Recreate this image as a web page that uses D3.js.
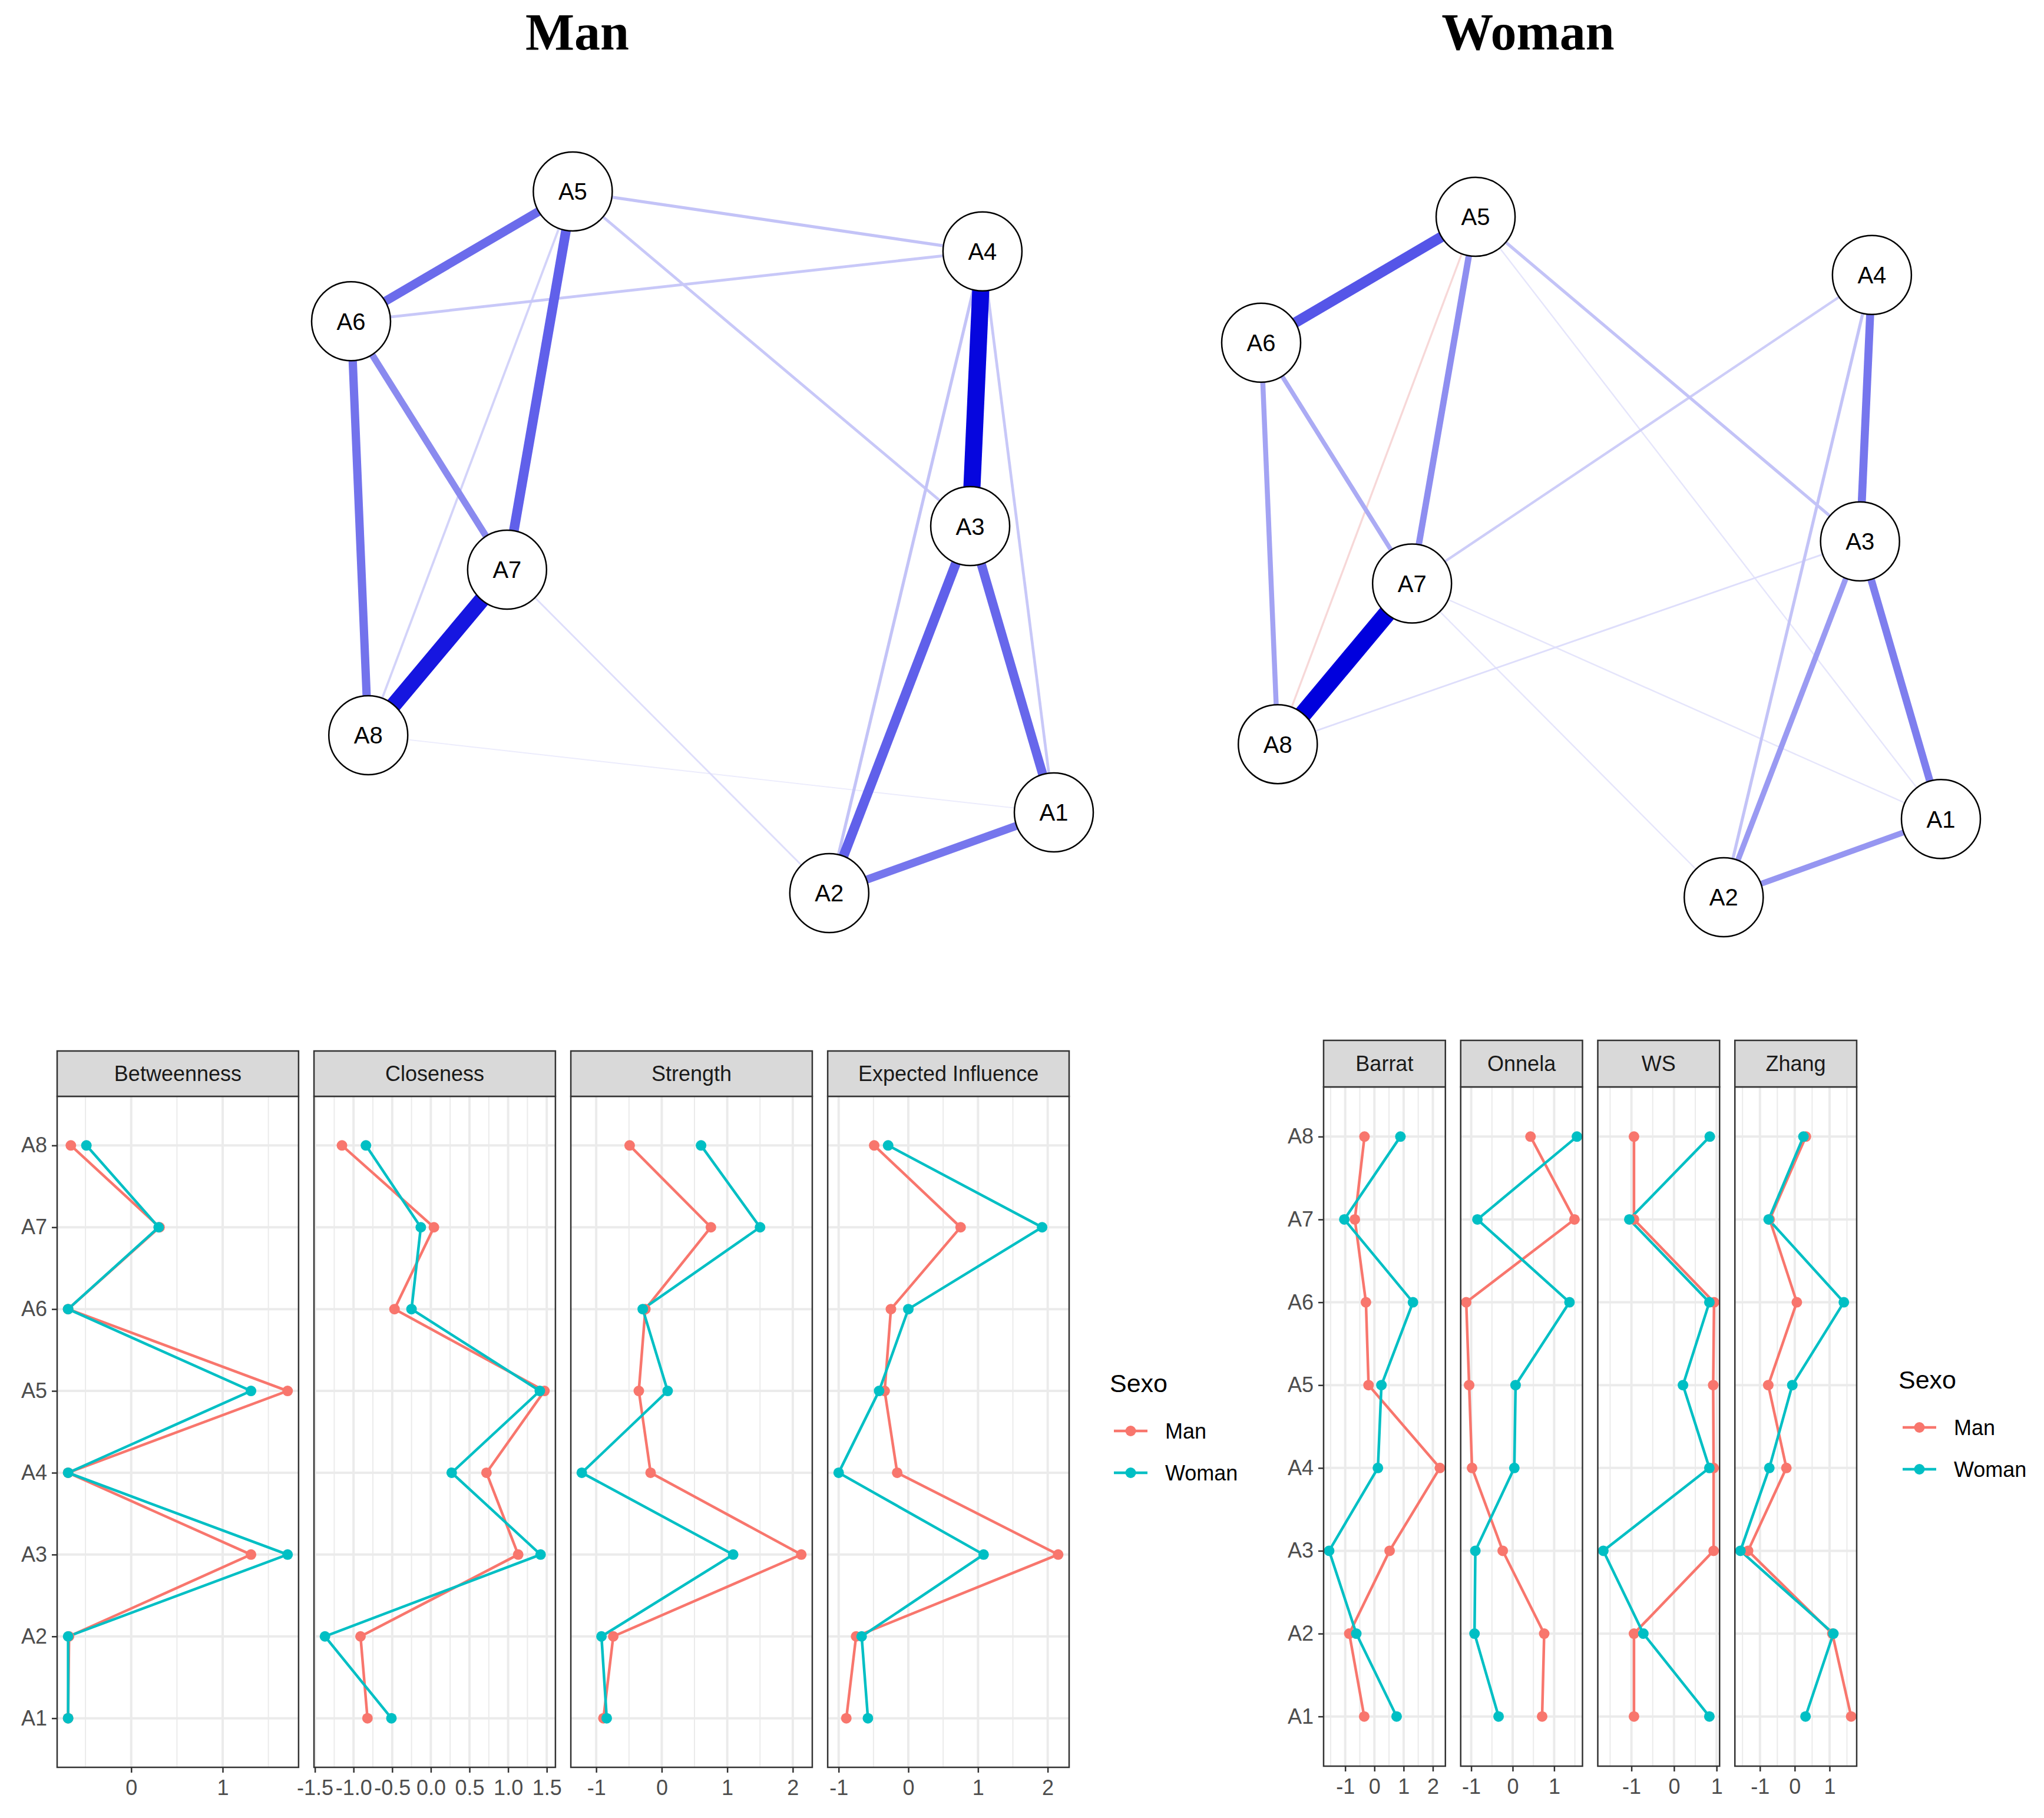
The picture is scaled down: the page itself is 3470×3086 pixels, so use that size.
<!DOCTYPE html>
<html>
<head>
<meta charset="utf-8">
<script src="https://cdn.jsdelivr.net/npm/d3@7"></script>
<style>
body { margin: 0; background: #fff; }
svg { display: block; font-family: "Liberation Sans", Arial, sans-serif; }
</style>
</head>
<body>
<div id="content"></div>
<script>
var w = 3470;
var h = 3086;

// network layout (shared by both groups, qgraph-like units)
var nodeNames = ["A1", "A2", "A3", "A4", "A5", "A6", "A7", "A8"];
var layoutX = [1.0, 0.361, 0.762, 0.797, -0.369, -1.0, -0.556, -0.951];
var layoutY = [-0.770, -1.0, 0.046, 0.829, 1.0, 0.630, -0.078, -0.550];

// edges: [from, to, weight]
var manEdges = [
    ["A3", "A4", 0.60], ["A7", "A8", 0.55], ["A5", "A7", 0.33], ["A3", "A2", 0.33],
    ["A3", "A1", 0.31], ["A5", "A6", 0.30], ["A6", "A8", 0.28], ["A2", "A1", 0.27],
    ["A6", "A7", 0.22], ["A5", "A4", 0.09], ["A6", "A4", 0.08], ["A5", "A3", 0.08],
    ["A4", "A2", 0.09], ["A4", "A1", 0.08], ["A5", "A8", 0.06], ["A7", "A2", 0.04],
    ["A8", "A1", 0.02]
];
var womanEdges = [
    ["A7", "A8", 0.62], ["A5", "A6", 0.36], ["A4", "A3", 0.27], ["A3", "A1", 0.25],
    ["A5", "A7", 0.21], ["A2", "A1", 0.19], ["A3", "A2", 0.18], ["A6", "A8", 0.16],
    ["A6", "A7", 0.14], ["A5", "A3", 0.09], ["A4", "A2", 0.09], ["A4", "A7", 0.07],
    ["A3", "A8", 0.04], ["A5", "A8", -0.05], ["A5", "A1", 0.03], ["A7", "A1", 0.03],
    ["A7", "A2", 0.03]
];

// centrality / clustering values, order A1..A8
var items = ["A1", "A2", "A3", "A4", "A5", "A6", "A7", "A8"];
var groups = ["Man", "Woman"];

var betweennessMan = [-0.69, -0.68, 1.31, -0.69, 1.71, -0.69, 0.31, -0.66];
var betweennessWoman = [-0.69, -0.69, 1.71, -0.69, 1.31, -0.69, 0.30, -0.49];
var closenessMan = [-0.82, -0.91, 1.13, 0.72, 1.47, -0.47, 0.04, -1.15];
var closenessWoman = [-0.51, -1.37, 1.42, 0.27, 1.41, -0.25, -0.13, -0.84];
var strengthMan = [-0.89, -0.74, 2.13, -0.17, -0.35, -0.25, 0.75, -0.49];
var strengthWoman = [-0.84, -0.92, 1.09, -1.22, 0.09, -0.29, 1.50, 0.60];
var influenceMan = [-0.89, -0.75, 2.15, -0.16, -0.34, -0.25, 0.75, -0.49];
var influenceWoman = [-0.58, -0.67, 1.08, -1.00, -0.42, 0.00, 1.92, -0.29];

var barratMan = [-0.35, -0.86, 0.52, 2.24, -0.20, -0.29, -0.67, -0.34];
var barratWoman = [0.76, -0.62, -1.55, 0.12, 0.24, 1.32, -1.03, 0.89];
var onnelaMan = [0.71, 0.76, -0.24, -0.98, -1.05, -1.12, 1.49, 0.43];
var onnelaWoman = [-0.34, -0.92, -0.90, 0.04, 0.07, 1.37, -0.85, 1.55];
var wsMan = [-0.94, -0.94, 0.93, 0.93, 0.92, 0.94, -0.94, -0.94];
var wsWoman = [0.83, -0.72, -1.66, 0.83, 0.21, 0.83, -1.05, 0.84];
var zhangMan = [1.62, 1.08, -1.34, -0.24, -0.76, 0.06, -0.72, 0.32];
var zhangWoman = [0.31, 1.11, -1.56, -0.73, -0.07, 1.41, -0.75, 0.25];

var centralityNames = ["Betweenness", "Closeness", "Strength", "Expected Influence"];
var centralityTicks = [[0, 1], [-1.5, -1, -0.5, 0, 0.5, 1, 1.5], [-1, 0, 1, 2], [-1, 0, 1, 2]];
var clusteringNames = ["Barrat", "Onnela", "WS", "Zhang"];
var clusteringTicks = [[-1, 0, 1, 2], [-1, 0, 1], [-1, 0, 1], [-1, 0, 1]];

var groupColor = d3.scaleOrdinal().domain(groups).range(["#F8766D", "#00BFC4"]);

var svg = d3.select("div#content").append("svg")
    .attr("width", w)
    .attr("height", h)
    .style("background-color", "#ffffff");

// ---------- networks ----------
var edgeWidth = d3.scaleLinear().domain([0, 0.62]).range([1, 30]);
var edgeFade = d3.scalePow().exponent(0.75).domain([0, 0.62]).range([0, 1]).clamp(true);
var posColor = d3.interpolateRgb("#ffffff", "#0000DD");
var negColor = d3.interpolateRgb("#ffffff", "#CC0000");

function drawNetwork(title, edges, box) {
    var x = d3.scaleLinear().domain([-1, 1]).range([box.x0, box.x1]);
    var y = d3.scaleLinear().domain([-1, 1]).range([box.y1, box.y0]);
    var pos = {};
    nodeNames.forEach(function (n, i) {
        pos[n] = [x(layoutX[i]), y(layoutY[i])];
    });

    svg.append("text")
        .attr("x", box.titleX)
        .attr("y", 84)
        .attr("text-anchor", "middle")
        .style("font-family", "'Liberation Serif', 'DejaVu Serif', serif")
        .style("font-weight", "bold")
        .style("font-size", "88px")
        .text(title);

    var g = svg.append("g");
    var sorted = edges.slice().sort(function (a, b) { return Math.abs(a[2]) - Math.abs(b[2]); });
    g.selectAll("line")
        .data(sorted)
        .enter().append("line")
        .attr("x1", d => pos[d[0]][0])
        .attr("y1", d => pos[d[0]][1])
        .attr("x2", d => pos[d[1]][0])
        .attr("y2", d => pos[d[1]][1])
        .attr("stroke", d => d[2] < 0 ? negColor(edgeFade(-d[2])) : posColor(edgeFade(d[2])))
        .attr("stroke-width", d => edgeWidth(Math.abs(d[2])));

    var nodes = g.selectAll("g.node")
        .data(nodeNames)
        .enter().append("g")
        .attr("class", "node")
        .attr("transform", d => "translate(" + pos[d][0] + "," + pos[d][1] + ")");
    nodes.append("circle")
        .attr("r", 67)
        .attr("fill", "#ffffff")
        .attr("stroke", "#000000")
        .attr("stroke-width", 2.5);
    nodes.append("text")
        .attr("text-anchor", "middle")
        .attr("dy", "0.36em")
        .style("font-size", "40px")
        .text(d => d);
}

drawNetwork("Man", manEdges, { x0: 596, x1: 1789, y0: 325, y1: 1516, titleX: 980 });
drawNetwork("Woman", womanEdges, { x0: 2141, x1: 3295, y0: 368, y1: 1523, titleX: 2594 });

// ---------- faceted line plots ----------
function fmtTick(step) {
    var f = step < 1 ? d3.format(".1f") : d3.format("d");
    return function (d) { return f(d).replace("\u2212", "-"); };
}

function drawFacets(cfg) {
    var bands = d3.scaleBand().domain(cfg.names).range([cfg.left, cfg.right]).paddingInner(cfg.gap);
    var y = d3.scalePoint().domain(items).range([cfg.bottom, cfg.top]).padding(0.6);

    cfg.names.forEach(function (name, i) {
        var man = cfg.series[i][0];
        var woman = cfg.series[i][1];
        var ext = d3.extent(man.concat(woman));
        var pad = (ext[1] - ext[0]) * 0.05;
        var bx = bands(name);
        var bw = bands.bandwidth();
        var x = d3.scaleLinear().domain([ext[0] - pad, ext[1] + pad]).range([bx, bx + bw]);
        var ticks = cfg.ticks[i];
        var step = ticks[1] - ticks[0];
        var minor = [ticks[0] - step / 2].concat(ticks.map(t => t + step / 2))
            .filter(v => v >= x.domain()[0] && v <= x.domain()[1]);

        var g = svg.append("g");
        g.append("rect")
            .attr("x", bx).attr("y", cfg.top)
            .attr("width", bw).attr("height", cfg.bottom - cfg.top)
            .attr("fill", "#ffffff");
        g.selectAll("line.minor").data(minor).enter().append("line")
            .attr("x1", d => x(d)).attr("x2", d => x(d))
            .attr("y1", cfg.top).attr("y2", cfg.bottom)
            .attr("stroke", "#ebebeb").attr("stroke-width", 2);
        g.selectAll("line.majx").data(ticks).enter().append("line")
            .attr("x1", d => x(d)).attr("x2", d => x(d))
            .attr("y1", cfg.top).attr("y2", cfg.bottom)
            .attr("stroke", "#ebebeb").attr("stroke-width", 4);
        g.selectAll("line.majy").data(items).enter().append("line")
            .attr("x1", bx).attr("x2", bx + bw)
            .attr("y1", d => y(d)).attr("y2", d => y(d))
            .attr("stroke", "#ebebeb").attr("stroke-width", 4);

        var line = d3.line().x(d => x(d[1])).y(d => y(d[0]));
        var sets = [man, woman];
        groups.forEach(function (grp, k) {
            var pts = items.map((it, j) => [it, sets[k][j]]);
            g.append("path")
                .datum(pts)
                .attr("d", line)
                .attr("fill", "none")
                .attr("stroke", groupColor(grp))
                .attr("stroke-width", 4.5);
        });
        groups.forEach(function (grp, k) {
            var pts = items.map((it, j) => [it, sets[k][j]]);
            g.selectAll("circle.p" + k).data(pts).enter().append("circle")
                .attr("cx", d => x(d[1]))
                .attr("cy", d => y(d[0]))
                .attr("r", 9)
                .attr("fill", groupColor(grp));
        });

        g.append("rect")
            .attr("x", bx).attr("y", cfg.top)
            .attr("width", bw).attr("height", cfg.bottom - cfg.top)
            .attr("fill", "none").attr("stroke", "#333333").attr("stroke-width", 2.5);

        // strip
        g.append("rect")
            .attr("x", bx).attr("y", cfg.stripTop)
            .attr("width", bw).attr("height", cfg.top - cfg.stripTop)
            .attr("fill", "#d9d9d9").attr("stroke", "#333333").attr("stroke-width", 2.5);
        g.append("text")
            .attr("x", bx + bw / 2)
            .attr("y", (cfg.stripTop + cfg.top) / 2)
            .attr("dy", "0.36em")
            .attr("text-anchor", "middle")
            .attr("fill", "#1a1a1a")
            .style("font-size", "36px")
            .text(name);

        var ax = g.append("g")
            .attr("transform", "translate(0," + cfg.bottom + ")")
            .call(d3.axisBottom(x).tickValues(ticks).tickSize(9).tickPadding(12).tickFormat(fmtTick(step)));
        ax.select(".domain").remove();
        ax.selectAll(".tick line").attr("stroke", "#333333").attr("stroke-width", 2.5);
        ax.selectAll(".tick text").attr("fill", "#4d4d4d").style("font-size", "36px")
            .style("font-family", "'Liberation Sans', Arial, sans-serif");

        if (i === 0) {
            var ay = g.append("g")
                .attr("transform", "translate(" + bx + ",0)")
                .call(d3.axisLeft(y).tickSize(9).tickPadding(8));
            ay.select(".domain").remove();
            ay.selectAll(".tick line").attr("stroke", "#333333").attr("stroke-width", 2.5);
            ay.selectAll(".tick text").attr("fill", "#4d4d4d").style("font-size", "36px")
                .style("font-family", "'Liberation Sans', Arial, sans-serif");
        }
    });

    // legend
    var lg = svg.append("g");
    lg.append("text")
        .attr("x", cfg.legendX)
        .attr("y", cfg.legendY)
        .style("font-size", "43px")
        .text("Sexo");
    groups.forEach(function (grp, k) {
        var ky = cfg.legendY + 66 + k * 71;
        lg.append("line")
            .attr("x1", cfg.legendX + 7).attr("x2", cfg.legendX + 64)
            .attr("y1", ky).attr("y2", ky)
            .attr("stroke", groupColor(grp)).attr("stroke-width", 4.5);
        lg.append("circle")
            .attr("cx", cfg.legendX + 35.5).attr("cy", ky).attr("r", 9)
            .attr("fill", groupColor(grp));
        lg.append("text")
            .attr("x", cfg.legendX + 94)
            .attr("y", ky)
            .attr("dy", "0.36em")
            .style("font-size", "36px")
            .text(grp);
    });
}

drawFacets({
    names: centralityNames,
    ticks: centralityTicks,
    series: [[betweennessMan, betweennessWoman], [closenessMan, closenessWoman],
             [strengthMan, strengthWoman], [influenceMan, influenceWoman]],
    left: 97, right: 1815, gap: 0.06,
    stripTop: 1784, top: 1861, bottom: 3000,
    legendX: 1884, legendY: 2363
});

drawFacets({
    names: clusteringNames,
    ticks: clusteringTicks,
    series: [[barratMan, barratWoman], [onnelaMan, onnelaWoman],
             [wsMan, wsWoman], [zhangMan, zhangWoman]],
    left: 2247, right: 3152, gap: 0.1116,
    stripTop: 1766, top: 1845, bottom: 2998,
    legendX: 3223, legendY: 2357
});
</script>
</body>
</html>
